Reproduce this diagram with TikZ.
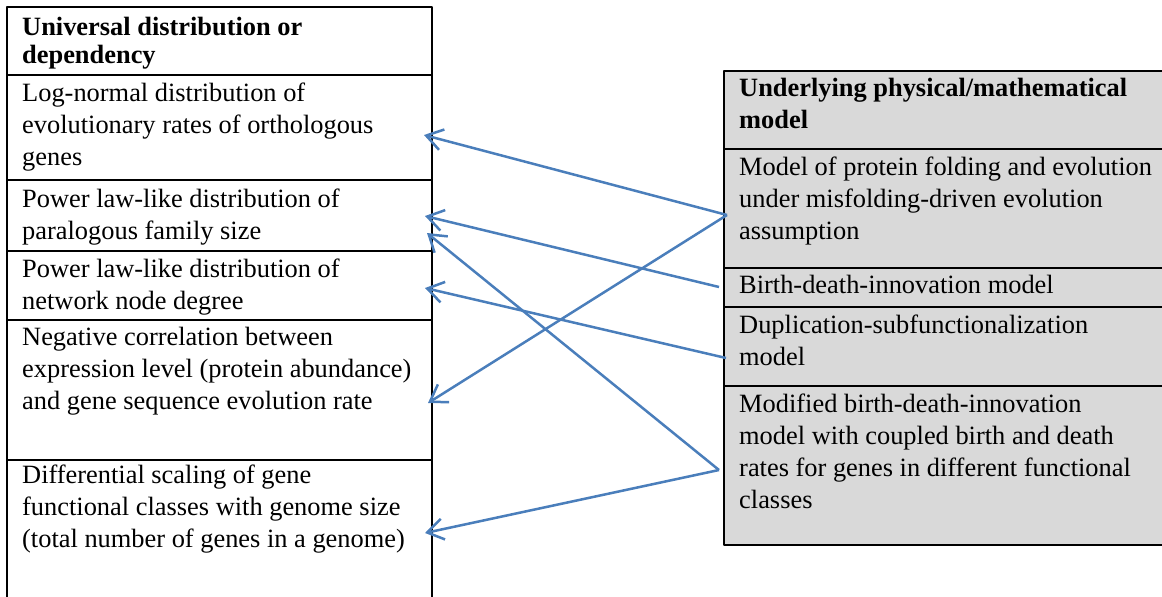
\documentclass[tikz,border=0pt]{standalone}
\usepackage{fontspec}
\setmainfont{Liberation Serif}
\usetikzlibrary{positioning,arrows.meta}
\definecolor{linkblue}{HTML}{4A7EBB}
\definecolor{cellgray}{HTML}{D9D9D9}
\newcommand\topgap[1]{\rule{0pt}{#1pt}}
\begin{document}
\begin{tikzpicture}[line join=round, x=1pt, y=-1pt, >={Straight Barb[length=16pt,width=21pt]}]
	\tikzset{cell/.style={draw, line width=2.3pt, anchor=north west, inner sep=0pt, outer sep=0pt, minimum width=425pt},
		gcell/.style={cell, fill=cellgray, minimum width=460pt},
		txt/.style={anchor=north west, inner sep=0pt, align=left, font=\fontsize{26.4}{32}\selectfont},
		hdr/.style={txt, font=\fontsize{26.4}{32}\selectfont\bfseries},
		link/.style={->, linkblue, line width=2.5pt}}
	\def\xmin{0} \def\xmax{1162}\def\ymin{0}\def\ymax{597}
	\useasboundingbox (\xmin,\ymin) rectangle (\xmax,\ymax);
	\clip (\xmin,\ymin) rectangle (\xmax,\ymax);
	% left column
	\node[cell, minimum height=68pt] (u0) at (7,7) {};
	\node[cell, minimum height=105pt] (u1) at (u0.south west) {};
	\node[cell, minimum height=70.7pt] (u2) at (u1.south west) {};
	\node[cell, minimum height=69.3pt] (u3) at (u2.south west) {};
	\node[cell, minimum height=140pt] (u4) at (u3.south west) {};
	\node[cell, minimum height=200pt] (u5) at (u4.south west) {};
	\node[hdr, font=\fontsize{26.4}{28}\selectfont\bfseries] (tu0) at ([xshift=15pt]u0.north west) {\topgap{28}Universal distribution or\\dependency};
	\node[txt] (tu1) at ([xshift=15pt]u1.north west) {\topgap{26.7}Log-normal distribution of\\evolutionary rates of orthologous\\genes};
	\node[txt] (tu2) at ([xshift=15pt]u2.north west) {\topgap{27}Power law-like distribution of\\paralogous family size};
	\node[txt] (tu3) at ([xshift=15pt]u3.north west) {\topgap{26.3}Power law-like distribution of\\network node degree};
	\node[txt] (tu4) at ([xshift=15pt]u4.north west) {\topgap{25}Negative correlation between\\expression level (protein abundance)\\and gene sequence evolution rate};
	\node[txt] (tu5) at ([xshift=15pt]u5.north west) {\topgap{23}Differential scaling of gene\\functional classes with genome size\\(total number of genes in a genome)};
	% right column
	\node[gcell, minimum height=78pt] (m0) at (724,71) {};
	\node[gcell, minimum height=119pt] (m1) at (m0.south west) {};
	\node[gcell, minimum height=39pt] (m2) at (m1.south west) {};
	\node[gcell, minimum height=79pt] (m3) at (m2.south west) {};
	\node[gcell, minimum height=159pt] (m4) at (m3.south west) {};
	\node[hdr] (tm0) at ([xshift=15pt]m0.north west) {\topgap{25}Underlying physical/mathematical\\model};
	\node[txt] (tm1) at ([xshift=15pt]m1.north west) {\topgap{26}Model of protein folding and evolution\\under misfolding-driven evolution\\assumption};
	\node[txt] (tm2) at ([xshift=15pt]m2.north west) {\topgap{25}Birth-death-innovation model};
	\node[txt] (tm3) at ([xshift=15pt]m3.north west) {\topgap{26}Duplication-subfunctionalization\\model};
	\node[txt] (tm4) at ([xshift=15pt]m4.north west) {\topgap{26}Modified birth-death-innovation\\model with coupled birth and death\\rates for genes in different functional\\classes};
	% links
	\coordinate (fold) at (727,215);
	\coordinate (bdi) at (719,287);
	\coordinate (dsub) at (726,358);
	\coordinate (mbdi) at (719,470);
	\coordinate (lognorm) at (424,135);
	\coordinate (famsize) at (425,216);
	\coordinate (famsize2) at (427,233);
	\coordinate (netdeg) at (425,288);
	\coordinate (negcor) at (428,403);
	\coordinate (scaling) at (425,533);
	\draw[link] (fold)--(lognorm);
	\draw[link] (fold)--(negcor);
	\draw[link] (bdi)--(famsize);
	\draw[link] (dsub)--(netdeg);
	\draw[link] (mbdi)--(famsize2);
	\draw[link] (mbdi)--(scaling);
\end{tikzpicture}
\end{document}
